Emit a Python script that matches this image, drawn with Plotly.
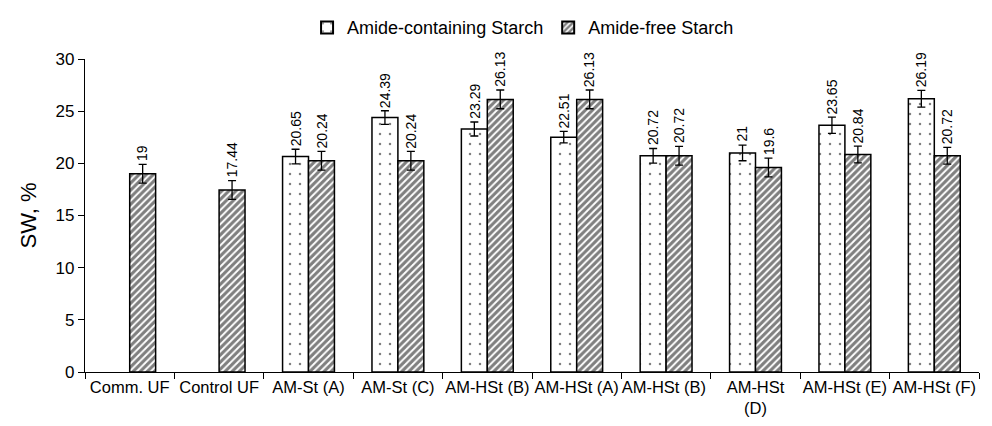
import plotly.graph_objects as go

categories = ["Comm. UF", "Control UF", "AM-St (A)", "AM-St (C)", "AM-HSt (B)",
              "AM-HSt (A)", "AM-HSt (B) ", "AM-HSt<br>(D)", "AM-HSt (E)", "AM-HSt (F)"]
amide_containing = [None, None, 20.65, 24.39, 23.29, 22.51, 20.72, 21, 23.65, 26.19]
amide_free = [19, 17.44, 20.24, 20.24, 26.13, 26.13, 20.72, 19.6, 20.84, 20.72]
amide_containing_err = [0, 0, 0.7, 0.65, 0.67, 0.55, 0.7, 0.75, 0.77, 0.8]
amide_free_err = [0.9, 0.9, 0.9, 0.9, 0.9, 0.9, 0.9, 0.9, 0.8, 0.8]

FONT = "Liberation Sans, Arial, sans-serif"

fig = go.Figure()
fig.add_trace(go.Bar(
    x=categories, y=amide_containing, name="Amide-containing Starch",
    marker=dict(color="white", line=dict(color="black", width=1.5),
                pattern=dict(shape=".", fgcolor="black", bgcolor="white", size=10, solidity=0.05)),
    error_y=dict(type="data", array=amide_containing_err, color="black", thickness=1.3, width=4),
))
fig.add_trace(go.Bar(
    x=categories, y=amide_free, name="Amide-free Starch",
    marker=dict(color="white", line=dict(color="black", width=1.5),
                pattern=dict(shape="/", fgcolor="black", bgcolor="white", size=5, solidity=0.62)),
    error_y=dict(type="data", array=amide_free_err, color="black", thickness=1.3, width=4),
))

def fmt(v):
    return ("%g" % v)

annotations = []
for cat, v, e in zip(categories, amide_containing, amide_containing_err):
    if v is None:
        continue
    annotations.append(dict(x=cat, y=v + e, text=fmt(v), textangle=-90, showarrow=False,
                            xanchor="center", yanchor="bottom", xshift=-13, yshift=1,
                            font=dict(size=14, color="black", family=FONT)))
for cat, v, e in zip(categories, amide_free, amide_free_err):
    annotations.append(dict(x=cat, y=v + e, text=fmt(v), textangle=-90, showarrow=False,
                            xanchor="center", yanchor="bottom", xshift=13, yshift=1,
                            font=dict(size=14, color="black", family=FONT)))

fig.update_layout(
    width=992, height=426,
    margin=dict(l=77, r=21, t=51, b=62, autoexpand=False),
    paper_bgcolor="white", plot_bgcolor="white",
    font=dict(family=FONT, size=17, color="black"),
    barmode="group", bargap=0.42, bargroupgap=0,
    showlegend=True,
    legend=dict(orientation="h", x=0.49, xanchor="center", y=1.1, yanchor="middle",
                font=dict(size=18), itemsizing="constant", itemwidth=30),
    annotations=annotations,
)
fig.update_xaxes(type="category", tickson="boundaries", ticks="outside", ticklen=6,
                 tickcolor="black", tickwidth=1.3, showline=True, linecolor="black", linewidth=1.3,
                 showgrid=False, tickfont=dict(size=16.5), tickangle=0, automargin=False)
fig.update_yaxes(range=[0, 30], tickvals=[0, 5, 10, 15, 20, 25, 30], ticks="outside", ticklen=6,
                 tickcolor="black", tickwidth=1.3, showline=True, linecolor="black", linewidth=1.3,
                 showgrid=False, zeroline=False, tickfont=dict(size=17), automargin=False,
                 title=dict(text="SW, %", font=dict(size=22), standoff=12))

fig.write_html("out.html")
